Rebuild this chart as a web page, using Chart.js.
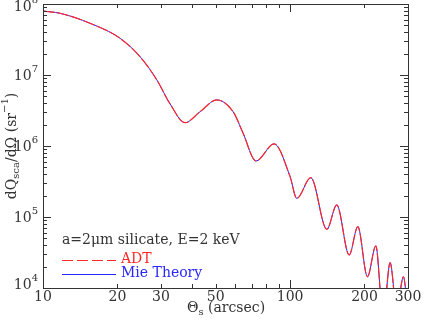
<!DOCTYPE html>
<html>
<head>
<meta charset="utf-8">
<script src="https://cdn.jsdelivr.net/npm/chart.js@4/dist/chart.umd.min.js"></script>
<style>
  html, body { margin: 0; padding: 0; background: #fff; }
  #wrap { width: 429px; height: 321px; }
</style>
</head>
<body>
<div id="wrap"><canvas id="c" width="429" height="321"></canvas></div>
<script>
// scattering angle (arcsec) and dQsca/dOmega (sr^-1)
const theta = [10, 11.7, 15.5, 20.5, 24.7, 28.9, 32.7, 37.6, 43.2, 50.5, 58.8, 64.5, 72.8,
               86.1, 100, 106.4, 121.3, 140.8, 154.5, 173.4, 188, 205.6, 222.3, 238, 254, 270, 287.5, 300];
const mie = [7.96e7, 7.4e7, 5.35e7, 3.29e7, 1.81e7, 8.5e6, 3.9e6, 2.13e6, 3.04e6, 4.45e6, 3.04e6, 1.52e6, 6.15e5,
             1.07e6, 3.7e5, 1.83e5, 3.58e5, 6.71e4, 1.48e5, 2.92e4, 7.3e4, 1.44e4, 3.91e4, 4.0e3, 2.27e4, 5.0e3, 1.44e4, 4.0e3];
const adt = [7.96e7, 7.4e7, 5.35e7, 3.29e7, 1.81e7, 8.5e6, 3.9e6, 2.13e6, 3.04e6, 4.45e6, 3.04e6, 1.52e6, 6.15e5,
             1.07e6, 3.7e5, 1.83e5, 3.58e5, 6.71e4, 1.48e5, 2.92e4, 7.3e4, 1.44e4, 3.91e4, 4.0e3, 2.27e4, 5.0e3, 1.44e4, 4.0e3];

const xLabels = [10, 20, 30, 50, 100, 200, 300];
const yDecades = [4, 5, 6, 7, 8];
const legendNames = ["ADT", "Mie Theory"];
const note = "a=2\u03bcm silicate, E=2 keV";

const RED = "rgb(255,40,40)";
const BLUE = "rgb(40,40,255)";
const INK = "#333";
const FONT = '"DejaVu Serif", serif';
const FS = 14;

// draw a run of text pieces; piece = [text, 'n'|'sub'|'sup']
function richWidth(ctx, parts, size) {
    let w = 0;
    parts.forEach(p => {
        ctx.font = (p[1] === 'n' ? size : Math.round(size * 0.7)) + "px " + FONT;
        w += ctx.measureText(p[0]).width;
    });
    return w;
}
function drawRich(ctx, parts, x, y, size) {
    let cx = x;
    parts.forEach(p => {
        const small = p[1] !== 'n';
        ctx.font = (small ? Math.round(size * 0.7) : size) + "px " + FONT;
        let dy = 0;
        if (p[1] === 'sub') dy = size * 0.3;
        if (p[1] === 'sup') dy = -size * 0.45;
        ctx.fillText(p[0], cx, y + dy);
        cx += ctx.measureText(p[0]).width;
    });
}

const boxPlugin = {
    id: 'box',
    afterDatasetsDraw(chart) {
        const ctx = chart.ctx;
        const a = chart.chartArea;
        const xs = chart.scales.x, ys = chart.scales.y;
        ctx.save();
        ctx.strokeStyle = INK;
        ctx.fillStyle = INK;
        ctx.lineWidth = 1;
        ctx.strokeRect(a.left + 0.5, a.top + 0.5, a.right - a.left, a.bottom - a.top);

        // x ticks (top and bottom, inward)
        ctx.beginPath();
        for (let d = 10; d <= 100; d *= 10) {
            for (let m = 1; m <= 9; m++) {
                const v = d * m;
                if (v < 10 || v > 300) continue;
                const px = Math.round(xs.getPixelForValue(v)) + 0.5;
                const len = m === 1 ? 8 : 4;
                ctx.moveTo(px, a.bottom); ctx.lineTo(px, a.bottom - len);
                ctx.moveTo(px, a.top); ctx.lineTo(px, a.top + len);
            }
        }
        // y ticks (left and right, inward)
        for (let e = 4; e <= 8; e++) {
            for (let m = 1; m <= 9; m++) {
                const v = m * Math.pow(10, e);
                if (v > 1e8) continue;
                const py = Math.round(ys.getPixelForValue(v)) + 0.5;
                const len = m === 1 ? 8 : 4;
                ctx.moveTo(a.left, py); ctx.lineTo(a.left + len, py);
                ctx.moveTo(a.right, py); ctx.lineTo(a.right - len, py);
            }
        }
        ctx.stroke();

        // x labels
        ctx.font = FS + "px " + FONT;
        ctx.textAlign = "center";
        ctx.textBaseline = "middle";
        xLabels.forEach(v => {
            ctx.fillText(String(v), xs.getPixelForValue(v), a.bottom + 9);
        });

        // y labels 10^n
        ctx.textAlign = "left";
        yDecades.forEach(e => {
            let py = ys.getPixelForValue(Math.pow(10, e)) + 1;
            if (e === 8) py = 7;
            if (e === 4) py -= 4;
            const parts = [["10", 'n'], [String(e), 'sup']];
            const w = richWidth(ctx, parts, FS);
            drawRich(ctx, parts, a.left - 5 - w, py, FS);
        });

        // x title
        const xt = [["\u0398", 'n'], ["s", 'sub'], [" (arcsec)", 'n']];
        const xw = richWidth(ctx, xt, FS);
        drawRich(ctx, xt, 226 - xw / 2, a.bottom + 20, FS);

        // y title (rotated)
        const yt = [["dQ", 'n'], ["sca", 'sub'], ["/d\u03a9 (sr", 'n'], ["\u22121", 'sup'], [")", 'n']];
        const yw = richWidth(ctx, yt, FS);
        ctx.save();
        ctx.translate(12, (a.top + a.bottom) / 2);
        ctx.rotate(-Math.PI / 2);
        drawRich(ctx, yt, -yw / 2, 0, FS);
        ctx.restore();

        // annotation
        ctx.font = FS + "px " + FONT;
        ctx.fillText(note, 62, 240);

        // legend
        const ly = [260, 274];
        const cols = [RED, BLUE];
        const dashes = [[11, 4], []];
        for (let i = 0; i < 2; i++) {
            ctx.strokeStyle = cols[i];
            ctx.setLineDash(dashes[i]);
            ctx.beginPath();
            ctx.moveTo(62, ly[i] + 0.5); ctx.lineTo(116, ly[i] + 0.5);
            ctx.stroke();
            ctx.fillStyle = cols[i];
            ctx.font = FS + "px " + FONT;
            ctx.fillText(legendNames[i], 121, ly[i] - 1);
        }
        ctx.restore();
    }
};

const toPts = arr => theta.map((t, i) => ({ x: t, y: arr[i] }));

new Chart(document.getElementById("c").getContext("2d"), {
    type: "line",
    data: {
        datasets: [
            { label: legendNames[0], data: toPts(adt), borderColor: RED, borderWidth: 1.2,
              borderDash: [12, 2], pointRadius: 0, cubicInterpolationMode: "monotone" },
            { label: legendNames[1], data: toPts(mie), borderColor: BLUE, borderWidth: 1,
              pointRadius: 0, cubicInterpolationMode: "monotone" }
        ]
    },
    options: {
        responsive: false,
        animation: false,
        layout: { padding: { left: 43, top: 4, right: 21, bottom: 33 } },
        scales: {
            x: { type: "logarithmic", min: 10, max: 300, display: false },
            y: { type: "logarithmic", min: 1e4, max: 1e8, display: false }
        },
        plugins: { legend: { display: false }, tooltip: { enabled: false } }
    },
    plugins: [boxPlugin]
});
</script>
</body>
</html>
